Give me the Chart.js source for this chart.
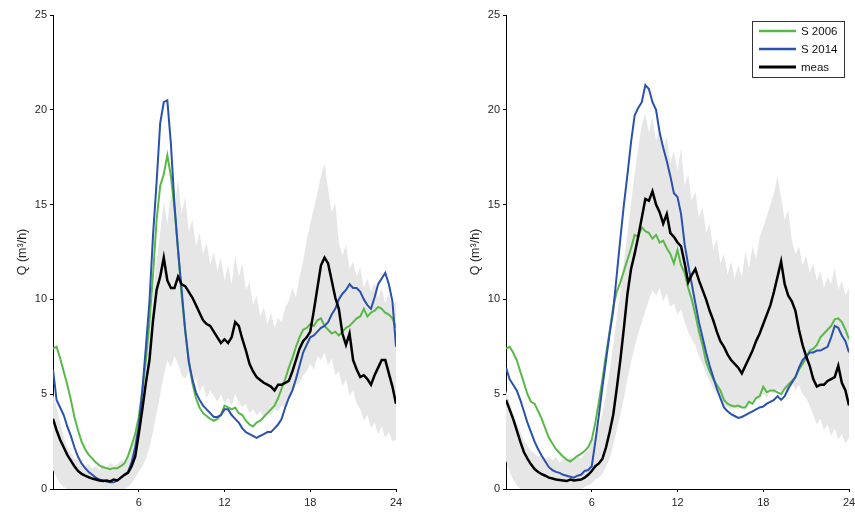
<!DOCTYPE html>
<html>
<head>
<meta charset="utf-8">
<script src="https://cdn.jsdelivr.net/npm/chart.js@4.4.1/dist/chart.umd.min.js"></script>
<style>
  html, body { margin: 0; padding: 0; background: #fff; }
  #wrap { position: relative; width: 855px; height: 512px; overflow: hidden; }
  canvas { position: absolute; top: 0; }
  #cLeft { left: 0; }
  #cRight { left: 453px; }
</style>
</head>
<body>
<div id="wrap">
  <canvas id="cLeft" width="453" height="512"></canvas>
  <canvas id="cRight" width="412" height="512"></canvas>
</div>
<script>
// time of day (h), one sample every 15 min
const hours = [
  0, 0.25, 0.5, 0.75, 1, 1.25, 1.5, 1.75, 2, 2.25, 2.5, 2.75,
  3, 3.25, 3.5, 3.75, 4, 4.25, 4.5, 4.75, 5, 5.25, 5.5, 5.75,
  6, 6.25, 6.5, 6.75, 7, 7.25, 7.5, 7.75, 8, 8.25, 8.5, 8.75,
  9, 9.25, 9.5, 9.75, 10, 10.25, 10.5, 10.75, 11, 11.25, 11.5, 11.75,
  12, 12.25, 12.5, 12.75, 13, 13.25, 13.5, 13.75, 14, 14.25, 14.5, 14.75,
  15, 15.25, 15.5, 15.75, 16, 16.25, 16.5, 16.75, 17, 17.25, 17.5, 17.75,
  18, 18.25, 18.5, 18.75, 19, 19.25, 19.5, 19.75, 20, 20.25, 20.5, 20.75,
  21, 21.25, 21.5, 21.75, 22, 22.25, 22.5, 22.75, 23, 23.25, 23.5, 23.75,
  24
];
const xTicks = [6, 12, 18, 24];
const yTicks = [0, 5, 10, 15, 20, 25];

// ---- left panel ----
const leftS2006 = [
  7.4, 7.5, 6.9, 6.2,   5.5, 4.7, 3.8, 3.1,   2.5, 2.1, 1.8, 1.6,   1.4, 1.25, 1.15, 1.1,
  1.05, 1.1, 1.1, 1.2,  1.35, 1.75, 2.3, 2.9, 3.8, 5.2, 6.8, 8.8,   11.3, 14.2, 16.0, 16.6,
  17.6, 16.5, 14.8, 12.6, 10.2, 8.3, 6.8, 5.6, 4.8, 4.3, 4.0, 3.85, 3.7, 3.6, 3.7, 3.9,
  4.4, 4.3, 4.2, 4.3,   4.0, 3.9, 3.6, 3.4,   3.3, 3.5, 3.6, 3.8,   4.0, 4.2, 4.4, 4.8,
  5.3, 5.8, 6.4, 6.9,   7.5, 8.0, 8.4, 8.5,   8.7, 8.6, 8.9, 9.0,   8.6, 8.4, 8.2, 8.3,
  8.1, 8.3, 8.5, 8.6,   8.8, 9.0, 9.1, 9.5,   9.1, 9.3, 9.4, 9.6,   9.5, 9.3, 9.2, 9.0,
  8.5
];
const leftS2014 = [
  6.3, 4.7, 4.3, 3.9,   3.3, 2.8, 2.2, 1.7,   1.35, 1.1, 0.9, 0.75, 0.6, 0.5, 0.45, 0.4,
  0.35, 0.35, 0.45, 0.6, 0.75, 0.9, 1.4, 2.2, 3.3, 5.2, 7.5, 9.9,  13.4, 16.2, 19.3, 20.4,
  20.5, 18.2, 15.0, 12.6, 10.5, 8.4, 6.7, 5.8, 5.1, 4.7, 4.4, 4.2,  4.0, 3.8, 3.8, 3.9,
  4.2, 4.2, 3.9, 3.7,   3.5, 3.2, 3.0, 2.9,   2.8, 2.7, 2.8, 2.9,   3.0, 3.0, 3.2, 3.4,
  3.7, 4.3, 4.8, 5.2,   5.8, 6.5, 7.2, 7.6,   8.0, 8.1, 8.3, 8.5,   8.6, 8.8, 9.2, 9.5,
  10.0, 10.3, 10.5, 10.8, 10.6, 10.6, 10.4, 10.0, 9.7, 9.5, 10.1, 10.8, 11.1, 11.4, 10.8, 9.9,
  7.5
];
const leftMeas = [
  3.7, 3.1, 2.6, 2.2,   1.8, 1.5, 1.2, 0.95,  0.8, 0.7, 0.62, 0.55, 0.5, 0.45, 0.42, 0.45,
  0.4, 0.5, 0.45, 0.6,  0.75, 0.85, 1.2, 1.7, 2.9, 4.2, 5.6, 6.8,   8.9, 10.5, 11.2, 12.2,
  11.0, 10.6, 10.6, 11.2, 10.8, 10.7, 10.4, 10.1, 9.7, 9.3, 8.9, 8.7, 8.6, 8.3, 8.0, 7.7,
  7.9, 7.7, 8.0, 8.8,   8.6, 7.9, 7.3, 6.6,   6.2, 5.9, 5.75, 5.6,  5.5, 5.4, 5.2, 5.5,
  5.5, 5.6, 5.7, 6.2,   6.8, 7.4, 7.8, 8.0,   8.3, 9.4, 10.6, 11.8, 12.2, 11.9, 11.0, 10.1,
  9.5, 8.2, 7.6, 8.2,   6.8, 6.3, 5.9, 6.0,   5.8, 5.5, 6.0, 6.4,   6.8, 6.8, 6.1, 5.4,
  4.5
];
const leftBandHi = [
  5.0, 4.3, 3.5, 2.8,   2.2, 1.9, 1.6, 1.5,   1.3, 1.2, 1.3, 1.1,   1.2, 1.0, 1.3, 1.1,
  1.4, 1.2, 1.3, 1.5,   1.4, 1.8, 2.1, 2.8,   3.8, 5.0, 6.5, 8.3,   10.2, 12.0, 13.5, 15.2,
  14.0, 15.6, 14.8, 16.3, 14.5, 15.4, 13.6, 14.2, 12.8, 13.5, 12.4, 13.0, 11.8, 12.5, 11.5, 12.2,
  11.0, 11.8, 10.8, 12.3, 11.2, 11.9, 10.5, 10.9, 9.7, 10.2, 9.1, 9.6, 8.7, 9.3, 8.5, 9.0,
  8.8, 9.6, 9.9, 10.6,  10.1, 11.2, 12.0, 13.1, 14.0, 14.8, 15.6, 16.5, 17.2, 15.8, 14.6, 15.1,
  13.0, 12.3, 12.9, 11.6, 12.0, 11.2, 11.7, 10.6, 11.1, 10.4, 10.9, 10.1, 10.6, 9.8, 10.3, 9.6,
  9.9
];
const leftBandLo = [
  1.0, 0.6, 0.3, 0.1,   0, 0, 0, 0,   0, 0, 0, 0,   0, 0, 0, 0,
  0, 0, 0, 0,   0, 0.1, 0.3, 0.6,   0.9, 1.2, 1.6, 2.2,   3.0, 4.0, 5.0, 6.0,
  6.8, 6.4, 7.0, 6.6,   6.0, 5.8, 6.2, 5.4,   5.9, 5.1, 5.5, 4.8,   5.2, 4.9, 4.6, 5.0,
  4.5, 4.8, 4.4, 5.0,   4.6, 4.3, 4.5, 4.0,   4.2, 3.9, 4.1, 3.8,   4.0, 3.9, 4.2, 4.1,
  4.4, 4.3, 4.8, 5.0,   5.5, 5.6, 6.0, 6.2,   6.6, 6.3, 7.0, 6.8,   7.2, 6.5, 6.9, 6.0,
  6.2, 5.4, 5.8, 4.9,   5.2, 4.5, 4.2, 3.6,   3.9, 3.2, 3.5, 2.9,   3.3, 2.7, 3.0, 2.5,
  2.6
];

// ---- right panel ----
const rightS2006 = [
  7.4, 7.5, 7.2, 6.8,   6.2, 5.6, 5.0, 4.6,   4.5, 4.1, 3.7, 3.2,   2.7, 2.4, 2.1, 1.9,
  1.7, 1.55, 1.45, 1.6, 1.75, 1.85, 2.0, 2.2, 2.6, 3.5, 4.6, 5.8,   7.1, 8.3, 9.6, 10.4,
  10.9, 11.5, 12.1, 12.7, 13.4, 13.3, 13.8, 13.6, 13.5, 13.2, 13.4, 13.0, 13.1, 12.7, 12.4, 11.9,
  12.6, 11.8, 11.4, 10.6, 10.0, 9.2, 8.3, 7.6, 6.7, 6.2, 5.8, 5.5,   5.2, 4.7, 4.5, 4.4,
  4.35, 4.4, 4.3, 4.3,  4.6, 4.5, 4.8, 4.9,   5.4, 5.1, 5.2, 5.2,   5.1, 5.0, 5.3, 5.5,
  5.7, 5.9, 6.3, 6.6,   6.9, 7.3, 7.4, 7.6,   8.0, 8.2, 8.4, 8.6,   8.95, 9.0, 8.8, 8.4,
  7.9
];
const rightS2014 = [
  6.4, 5.8, 5.5, 5.2,   4.7, 4.1, 3.5, 3.0,   2.5, 2.1, 1.75, 1.45, 1.15, 1.0, 0.9, 0.85,
  0.75, 0.7, 0.65, 0.6, 0.7, 0.75, 0.95, 1.0, 1.2, 2.5, 3.9, 5.4,   6.8, 8.2, 9.4, 11.3,
  13.2, 15.0, 16.6, 18.3, 19.7, 20.1, 20.4, 21.3, 21.1, 20.4, 20.0, 18.8, 18.0, 17.3, 16.5, 15.6,
  15.4, 14.5, 12.9, 11.8, 10.8, 9.8, 8.8, 8.0, 7.2, 6.5, 5.9, 5.3,  4.8, 4.3, 4.1, 3.95,
  3.85, 3.75, 3.8, 3.9, 4.0, 4.1, 4.2, 4.3,   4.35, 4.5, 4.6, 4.7,  4.9, 4.7, 4.9, 5.3,
  5.6, 5.9, 6.4, 6.8,   7.0, 7.2, 7.2, 7.3,   7.3, 7.4, 7.5, 8.0,   8.6, 8.5, 8.1, 7.8,
  7.2
];
const rightMeas = [
  4.7, 4.2, 3.7, 3.1,   2.5, 1.95, 1.6, 1.3,  1.05, 0.9, 0.78, 0.7, 0.6, 0.55, 0.5, 0.48,
  0.45, 0.42, 0.5, 0.45, 0.48, 0.5, 0.6, 0.75, 0.95, 1.2, 1.35, 1.6, 2.2, 3.0, 3.9, 5.3,
  6.8, 8.5, 10.3, 11.6, 12.4, 13.3, 14.3, 15.3, 15.2, 15.7, 15.0, 14.6, 14.0, 14.5, 13.5, 13.3,
  13.0, 12.8, 11.9, 10.9, 11.3, 11.6, 11.0, 10.5, 10.0, 9.4, 8.9, 8.3, 7.8, 7.5, 7.1, 6.8,
  6.6, 6.4, 6.1, 6.5,   6.9, 7.3, 7.8, 8.2,   8.7, 9.2, 9.7, 10.4,  11.2, 12.0, 10.8, 10.2,
  9.9, 9.4, 8.4, 7.6,   7.0, 6.5, 5.8, 5.4,   5.5, 5.5, 5.7, 5.8,   5.9, 6.5, 5.6, 5.2,
  4.4
];
const rightBandHi = [
  5.2, 4.6, 4.0, 3.5,   3.0, 2.6, 2.3, 2.0,   1.9, 1.7, 1.8, 1.6,   1.7, 1.5, 1.7, 1.4,
  1.6, 1.5, 1.7, 1.5,   1.8, 1.6, 1.9, 2.0,   2.5, 2.8, 3.3, 4.0,   5.0, 6.2, 7.6, 9.0,
  10.4, 12.0, 13.5, 15.1, 16.6, 18.0, 19.2, 19.8, 18.8, 19.6, 18.4, 19.0, 17.9, 18.6, 17.2, 17.8,
  16.8, 18.0, 16.0, 16.6, 15.2, 15.7, 14.3, 14.9, 13.5, 14.0, 12.6, 13.2, 11.9, 12.4, 11.3, 12.0,
  11.1, 11.8, 11.2, 12.5, 11.6, 12.8, 12.1, 13.3, 13.8, 14.4, 15.0, 15.6, 16.5, 15.4, 14.2, 14.7,
  13.1, 12.4, 12.8, 11.8, 12.3, 11.4, 11.9, 11.0, 11.5, 10.6, 11.2, 10.8, 11.7, 10.5, 11.0, 10.2,
  10.6
];
const rightBandLo = [
  1.5, 0.9, 0.5, 0.2,   0, 0, 0, 0,   0, 0, 0, 0,   0, 0, 0, 0,
  0, 0, 0, 0,   0, 0, 0.1, 0.2,   0.3, 0.5, 0.6, 0.8,   1.2, 1.6, 2.3, 3.1,
  3.9, 4.8, 5.8, 6.7,   7.5, 8.2, 8.8, 9.4,   10.0, 10.5, 10.2, 10.6, 9.9, 10.3, 9.6, 9.8,
  9.2, 9.5, 8.8, 8.3,   7.9, 7.6, 7.0, 6.6,   6.1, 5.7, 5.3, 5.0,   4.6, 4.4, 4.3, 4.2,
  4.3, 4.2, 4.4, 4.3,   4.6, 4.5, 4.8, 4.7,   5.0, 4.8, 5.2, 5.0,   5.3, 5.1, 5.3, 5.0,
  5.6, 5.2, 5.5, 5.0,   4.8, 4.4, 3.9, 3.4,   3.7, 3.1, 3.4, 2.8,   3.2, 2.6, 2.9, 2.4,
  2.7
];

const GREEN = '#58b947';
const BLUE = '#2a51ad';
const BLACK = '#000000';
const BAND = '#e6e6e6';
const AXIS = '#000000';
const TXT = '#262626';
const FONT = '"Liberation Sans", Arial, Helvetica, sans-serif';

const pts = arr => hours.map((h, i) => ({ x: h, y: arr[i] }));

// boxed legend in the top-right corner of the plot
const legendBox = {
  id: 'legendBox',
  afterDatasetsDraw(chart) {
    const ctx = chart.ctx, a = chart.chartArea;
    const x0 = a.right - 97, y0 = a.top + 6, w = 92, h = 56;
    const items = chart.data.datasets.filter(d => d.label);
    ctx.save();
    ctx.fillStyle = '#fff';
    ctx.fillRect(x0, y0, w, h);
    ctx.strokeStyle = '#333';
    ctx.lineWidth = 1;
    ctx.strokeRect(x0 + 0.5, y0 + 0.5, w, h);
    ctx.font = '11.5px ' + FONT;
    ctx.textBaseline = 'middle';
    items.forEach((d, i) => {
      const y = y0 + 10 + i * 18;
      ctx.strokeStyle = d.borderColor;
      ctx.lineWidth = d.borderWidth + 0.5;
      ctx.beginPath();
      ctx.moveTo(x0 + 7, y);
      ctx.lineTo(x0 + 44, y);
      ctx.stroke();
      ctx.fillStyle = '#111';
      ctx.fillText(d.label, x0 + 49, y + 0.5);
    });
    ctx.restore();
  }
};

function axisStyle() {
  return {
    grid: { drawOnChartArea: false, drawTicks: true, tickLength: 3, color: AXIS, lineWidth: 1 },
    border: { display: true, color: AXIS, width: 1 },
  };
}

function panel(id, lo, hi, s2006, s2014, meas, padRight, withLegend) {
  return new Chart(document.getElementById(id), {
    type: 'line',
    data: {
      datasets: [
        { data: pts(lo), borderColor: 'rgba(0,0,0,0)', borderWidth: 0, fill: false, order: 5 },
        { data: pts(hi), borderColor: 'rgba(0,0,0,0)', borderWidth: 0, fill: '-1', backgroundColor: BAND, order: 4 },
        { label: 'S 2006', data: pts(s2006), borderColor: GREEN, borderWidth: 2, fill: false, order: 2 },
        { label: 'S 2014', data: pts(s2014), borderColor: BLUE, borderWidth: 2, fill: false, order: 1 },
        { label: 'meas', data: pts(meas), borderColor: BLACK, borderWidth: 2.5, fill: false, order: 0 },
      ],
    },
    options: {
      responsive: false,
      animation: false,
      events: [],
      layout: { padding: { top: 15, right: padRight, bottom: 0, left: 0 } },
      elements: { point: { radius: 0 }, line: { tension: 0 } },
      plugins: { legend: { display: false }, tooltip: { enabled: false } },
      scales: {
        x: {
          type: 'linear', min: 0, max: 24,
          afterBuildTicks: s => { s.ticks = xTicks.map(v => ({ value: v })); },
          afterFit: s => { s.height = 23; },
          ...axisStyle(),
          ticks: { padding: 4, autoSkip: false, maxRotation: 0, color: TXT, font: { family: FONT, size: 11 } },
        },
        y: {
          type: 'linear', min: 0, max: 25,
          afterBuildTicks: s => { s.ticks = yTicks.map(v => ({ value: v })); },
          afterFit: s => { s.width = 53; },
          ...axisStyle(),
          ticks: { padding: 3, color: TXT, font: { family: FONT, size: 11 } },
          title: { display: true, text: 'Q (m³/h)', color: TXT, padding: { top: 15, bottom: 0 }, font: { family: FONT, size: 12.5 } },
        },
      },
    },
    plugins: withLegend ? [legendBox] : [],
  });
}

panel('cLeft', leftBandLo, leftBandHi, leftS2006, leftS2014, leftMeas, 57, false);
panel('cRight', rightBandLo, rightBandHi, rightS2006, rightS2014, rightMeas, 16, true);
</script>
</body>
</html>
